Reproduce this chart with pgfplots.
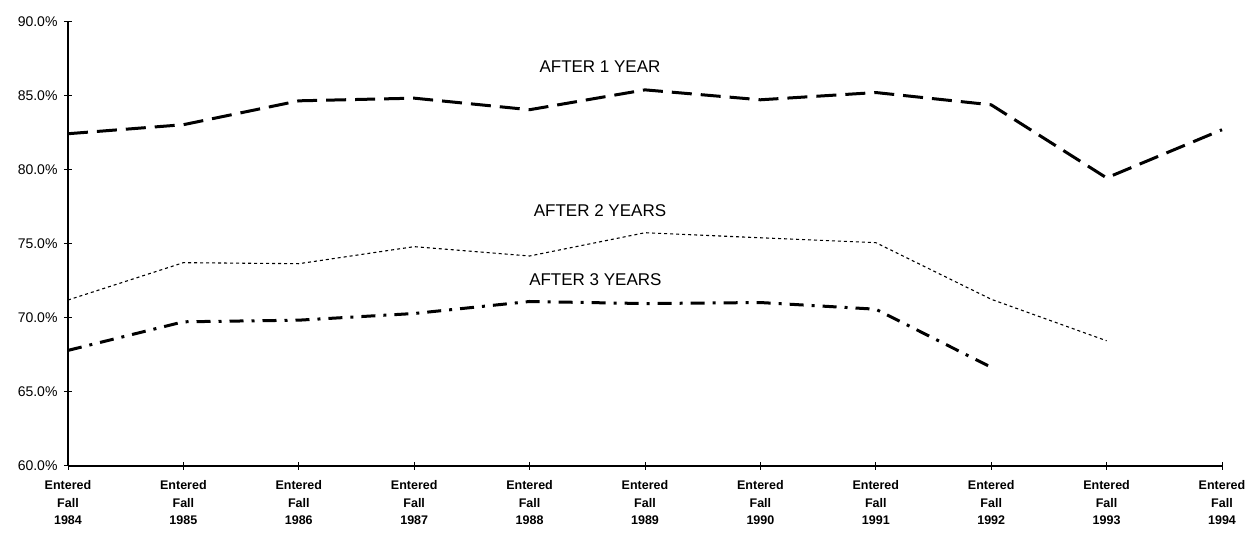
\documentclass[border=0pt]{standalone}
\usepackage{fontspec}
\setmainfont{Liberation Sans}
\usepackage{pgfplots}
\pgfplotsset{compat=1.18}
\begin{document}
\begin{tikzpicture}
\useasboundingbox (0,0) rectangle (1246pt,540pt);
\begin{axis}[
  at={(68pt,74pt)}, anchor=south west,
  scale only axis, width=1154pt, height=444.6pt,
  xmin=0, xmax=10, ymin=60, ymax=90,
  axis lines=left,
  axis line style={-, line width=1.3pt, black},
  xtick={0,1,2,3,4,5,6,7,8,9,10},
  xticklabels={{Entered\\Fall\\1984},{Entered\\Fall\\1985},{Entered\\Fall\\1986},{Entered\\Fall\\1987},{Entered\\Fall\\1988},{Entered\\Fall\\1989},{Entered\\Fall\\1990},{Entered\\Fall\\1991},{Entered\\Fall\\1992},{Entered\\Fall\\1993},{Entered\\Fall\\1994}},
  ytick={60,65,70,75,80,85,90},
  yticklabels={60.0\%,65.0\%,70.0\%,75.0\%,80.0\%,85.0\%,90.0\%},
  tick align=center, major tick length=8pt,
  tick style={line width=1pt, black},
  x tick label style={font=\bfseries\fontsize{12.5}{17.7}\selectfont, align=center, yshift=-7pt},
  y tick label style={font=\fontsize{14}{15}\selectfont, xshift=-3pt},
  clip=false,
]
\pgfplotstableread{
x a1 a2 a3
0 82.42 71.20 67.80
1 83.03 73.72 69.73
2 84.64 73.65 69.84
3 84.82 74.80 70.29
4 84.04 74.17 71.10
5 85.38 75.74 70.96
6 84.71 75.40 71.03
7 85.20 75.07 70.58
8 84.37 71.25 66.66
9 79.44 68.45 nan
10 82.69 nan nan
}\datatable
\addplot[black, line width=3pt, dash pattern=on 20pt off 9pt] table[x=x, y=a1] {\datatable};
\addplot[black, line width=1.1pt, dash pattern=on 3pt off 3pt] table[x=x, y=a2] {\datatable};
\addplot[black, line width=3pt, dash pattern=on 14pt off 8pt on 3pt off 8pt] table[x=x, y=a3] {\datatable};
\node[font=\fontsize{17}{18}\selectfont] at (axis cs:4.61,86.93) {AFTER 1 YEAR};
\node[font=\fontsize{17}{18}\selectfont] at (axis cs:4.61,77.24) {AFTER 2 YEARS};
\node[font=\fontsize{17}{18}\selectfont] at (axis cs:4.57,72.60) {AFTER 3 YEARS};
\end{axis}
\end{tikzpicture}
\end{document}
